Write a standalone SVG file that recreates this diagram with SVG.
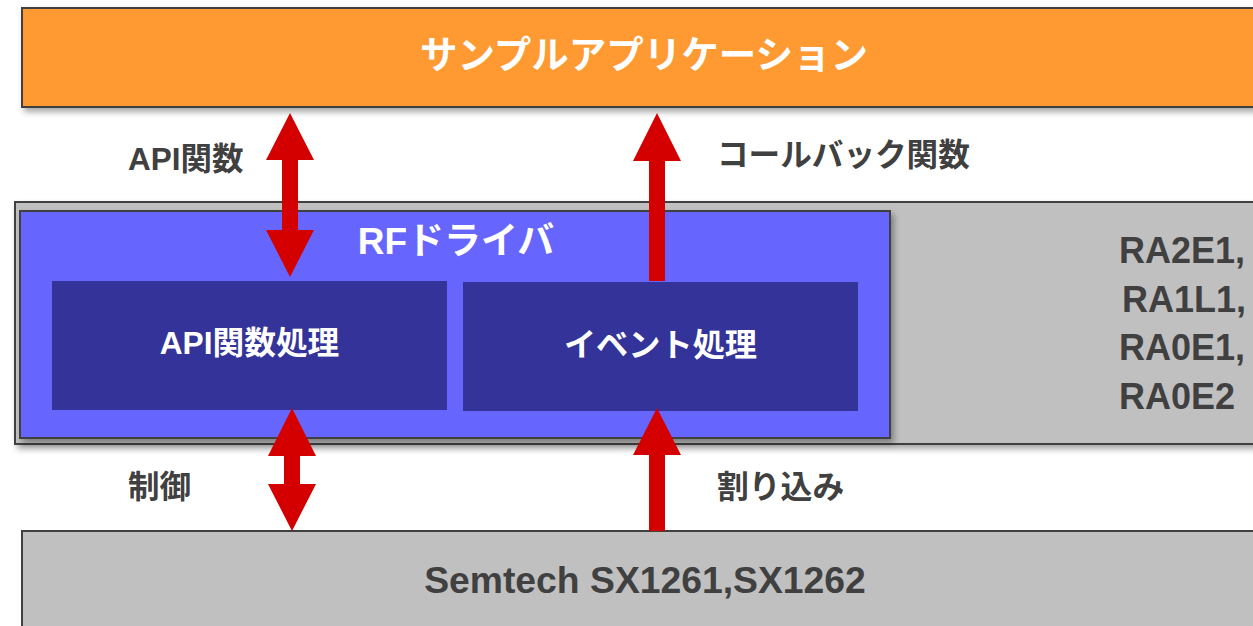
<svg xmlns="http://www.w3.org/2000/svg" width="1253" height="626" viewBox="0 0 1253 626">
<defs>
<filter id="sh" x="-5%" y="-10%" width="115%" height="130%">
<feDropShadow dx="3" dy="4" stdDeviation="3" flood-color="#000" flood-opacity="0.35"/>
</filter>
<style>
.t{font-family:"Liberation Sans","Noto Sans CJK JP",sans-serif;font-weight:bold}
.w{fill:#ffffff}
.g{fill:#404040}
.box{stroke:#404040;stroke-width:2}
.arr{fill:#D40000}
</style>
</defs>
<rect width="1253" height="626" fill="#ffffff"/>
<g id="app">
<rect class="box" x="22" y="8" width="1250" height="99" fill="#FF9933" filter="url(#sh)"/>
<text class="t w" x="644" y="68" font-size="37.5" text-anchor="middle">サンプルアプリケーション</text>
</g>
<g id="mcu">
<rect class="box" x="15" y="202" width="1260" height="242" fill="#C0C0C0" stroke="#555555" filter="url(#sh)"/>
<text class="t g" x="1119" y="263" font-size="36">RA2E1,</text>
<text class="t g" x="1122" y="312" font-size="36">RA1L1,</text>
<text class="t g" x="1119" y="360" font-size="36">RA0E1,</text>
<text class="t g" x="1119" y="409" font-size="36">RA0E2</text>
</g>
<g id="rfdriver">
<rect class="box" x="20" y="211" width="870" height="227" fill="#6666FF" filter="url(#sh)"/>
<text class="t w" x="456" y="254" font-size="37" text-anchor="middle">RFドライバ</text>
</g>
<g id="api">
<rect x="52" y="281" width="395" height="129" fill="#333399"/>
<text class="t w" x="249.5" y="354" font-size="31.7" text-anchor="middle">API関数処理</text>
</g>
<g id="event">
<rect x="463" y="282" width="395" height="129" fill="#333399"/>
<text class="t w" x="660.5" y="356" font-size="32.2" text-anchor="middle">イベント処理</text>
</g>
<g id="semtech">
<rect class="box" x="22" y="531" width="1250" height="110" fill="#C0C0C0"/>
<text class="t g" x="645" y="593" font-size="37.3" text-anchor="middle">Semtech SX1261,SX1262</text>
</g>
<g id="connectors">
<polygon class="arr" points="290,113 314,160 298,160 298,230 314,230 290,277 266,230 282,230 282,160 266,160"/>
<polygon class="arr" points="657,113 681,161 665,161 665,281 649,281 649,161 633,161"/>
<polygon class="arr" points="292,408 316,456 300,456 300,484 316,484 292,531 268,484 284,484 284,456 268,456"/>
<polygon class="arr" points="657,408 681,455 665,455 665,531 649,531 649,455 633,455"/>
<text class="t g" x="128" y="170" font-size="31.5">API関数</text>
<text class="t g" x="717" y="166" font-size="31.6">コールバック関数</text>
<text class="t g" x="128" y="498" font-size="31.5">制御</text>
<text class="t g" x="717" y="498" font-size="31.8">割り込み</text>
</g>
</svg>
